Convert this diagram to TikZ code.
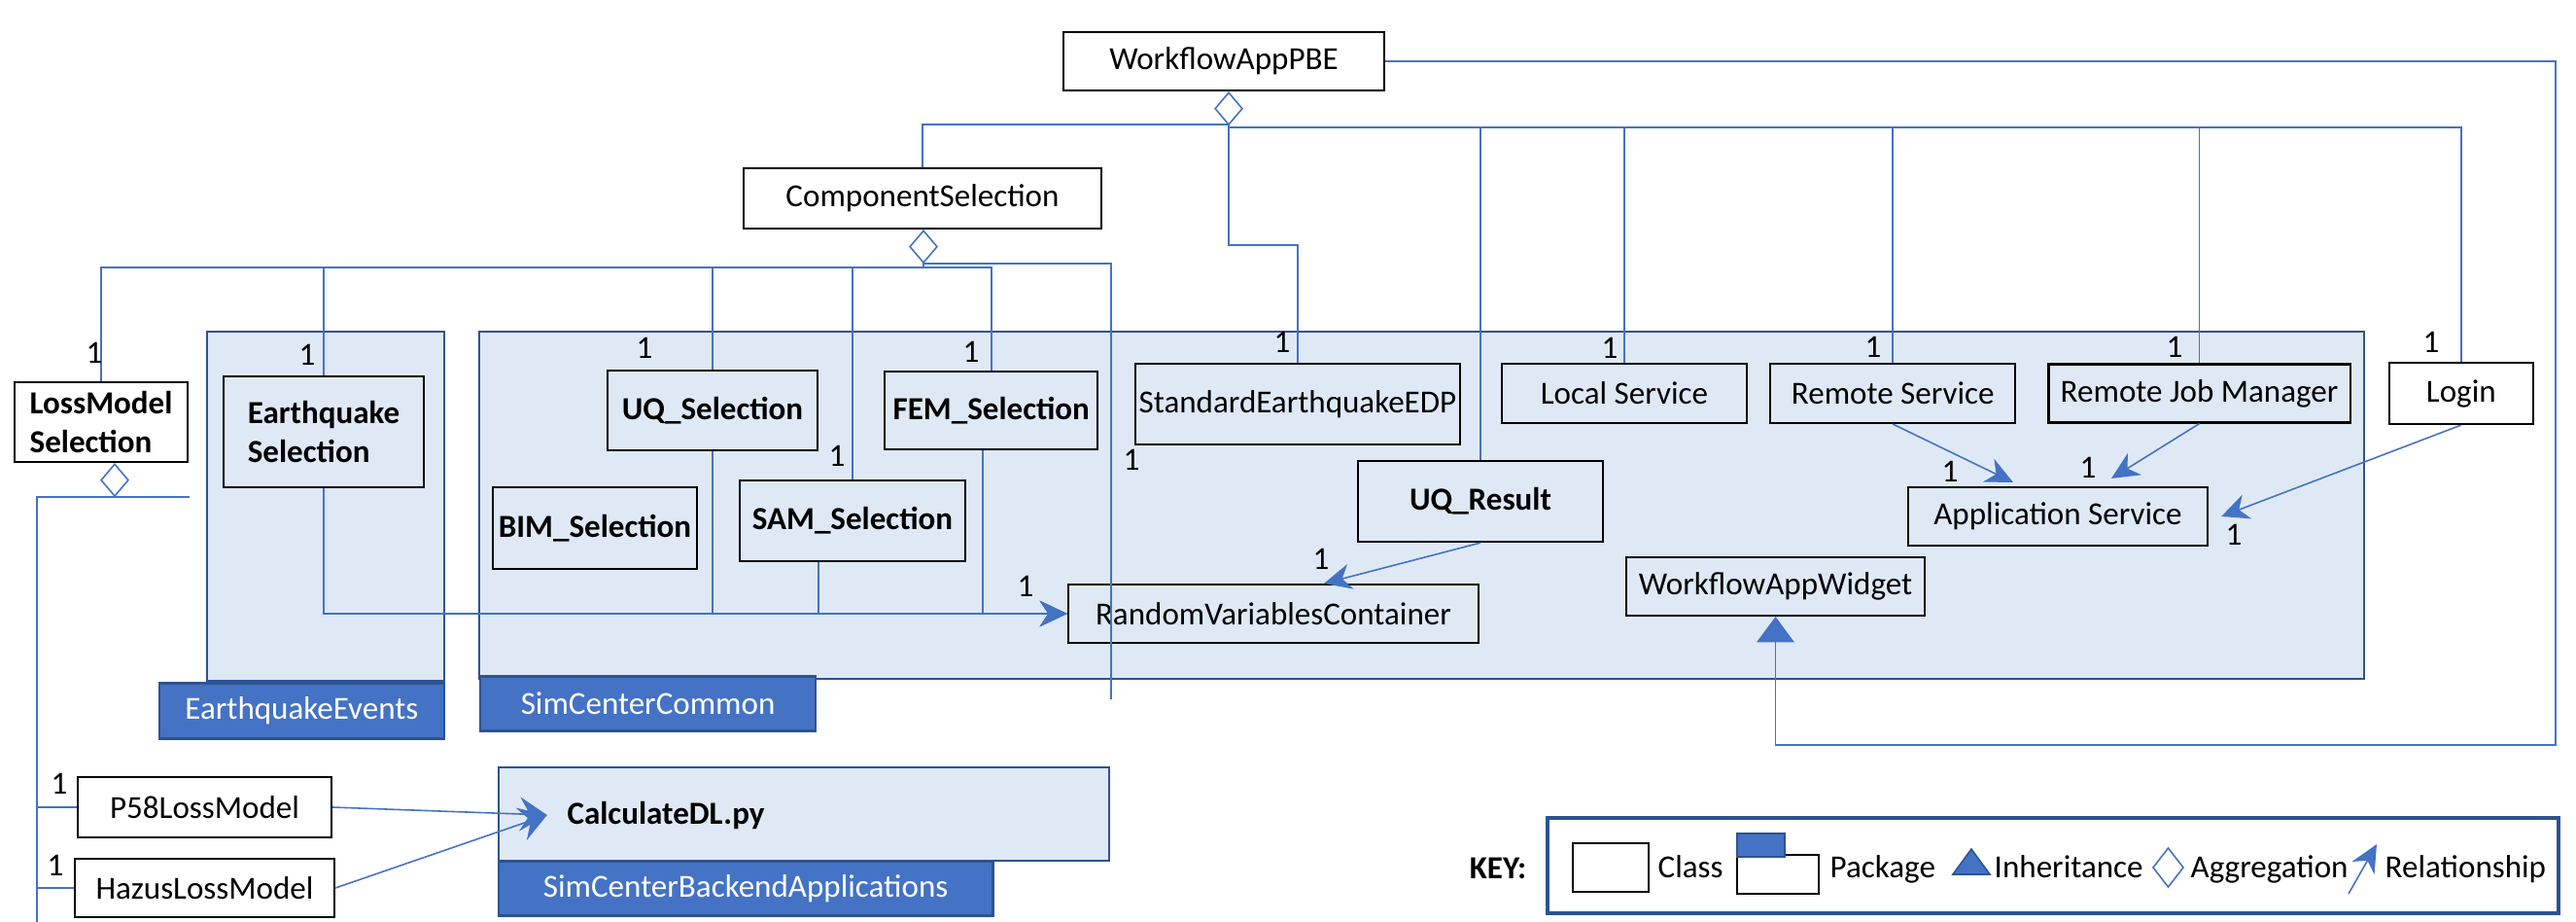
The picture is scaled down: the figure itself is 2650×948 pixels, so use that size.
\documentclass[tikz,border=0pt]{standalone}
\usepackage{fontspec}
\setmainfont{Carlito}
\usetikzlibrary{arrows.meta,positioning,fit}
\definecolor{pkgfill}{HTML}{DFE9F5}
\definecolor{tabblue}{HTML}{4472C4}
\definecolor{pkgline}{HTML}{2F528F}
\definecolor{lineblue}{HTML}{4472C4}
\newcommand{\dfont}{\fontsize{9.4}{11.1}\selectfont}
\tikzstyle{cls} = [rectangle, draw, line width=0.6pt, fill=white, text centered, inner sep=1pt]
\tikzstyle{pcls} = [cls, fill=pkgfill]
\tikzstyle{pkg} = [rectangle, draw=pkgline, line width=0.7pt, fill=pkgfill, inner sep=0pt]
\tikzstyle{pkgtab} = [rectangle, draw=pkgline, line width=0.7pt, fill=tabblue, text=white, inner sep=0pt]
\tikzstyle{conn} = [draw=lineblue, line width=0.45pt]
\tikzstyle{rel} = [conn, -{Stealth[length=8pt, width=7.5pt, inset=2.5pt]}]
\tikzstyle{agg} = [conn, {Diamond[open, length=10pt, width=8.5pt]}-]
\tikzstyle{inh} = [conn, -{Triangle[length=7.5pt, width=11pt, fill=tabblue]}]
\tikzstyle{mult} = [inner sep=0pt]
\tikzstyle{keytext} = [anchor=base west, inner sep=0pt]

\begin{document}
\begin{tikzpicture}[x=0.01cm, y=-0.01cm, font=\dfont]
    \useasboundingbox (0,0) rectangle (2650,948);

    % packages
    \node[pkg, fit={(213,341) (457,700)}] (eqPkg) {};
    \node[pkgtab, anchor=north east, minimum width=2.93cm, minimum height=0.57cm] (eqTab) at (eqPkg.south east) {EarthquakeEvents};
    \node[pkg, fit={(493,341) (2432,698)}] (simPkg) {};
    \node[pkgtab, anchor=north west, minimum width=3.45cm, minimum height=0.56cm] (simTab) at ([xshift=0.01cm, yshift=0.05cm]simPkg.south west) {SimCenterCommon};
    \node[pkg, fit={(513,789) (1141,885)}] (bePkg) {};
    \node[pkgtab, anchor=north west, minimum width=5.08cm, minimum height=0.56cm] (beTab) at ([yshift=0.02cm]bePkg.south west) {SimCenterBackendApplications};

    % classes
    \node[cls, minimum width=3.3cm, minimum height=0.6cm] (pbe) at (1259,63) {WorkflowAppPBE};
    \node[cls, minimum width=3.68cm, minimum height=0.62cm] (cs) at (949,204) {ComponentSelection};
    \node[cls, align=left, font=\dfont\bfseries, minimum width=1.78cm, minimum height=0.82cm] (loss) at (104,434) {LossModel\\Selection};
    \node[pcls, align=left, font=\dfont\bfseries, minimum width=2.06cm, minimum height=1.14cm] (eqSel) at (333,444) {Earthquake\\Selection};
    \node[pcls, font=\dfont\bfseries, minimum width=2.16cm, minimum height=0.82cm] (uqSel) at (733,422) {UQ\_Selection};
    \node[pcls, font=\dfont\bfseries, minimum width=2.19cm, minimum height=0.8cm, right=0.67cm of uqSel] (femSel) {FEM\_Selection};
    \node[pcls, font=\dfont\bfseries, minimum width=2.1cm, minimum height=0.84cm] (bimSel) at (612,543) {BIM\_Selection};
    \node[pcls, font=\dfont\bfseries, minimum width=2.32cm, minimum height=0.83cm] (samSel) at (877,535.5) {SAM\_Selection};
    \node[pcls, minimum width=3.28cm, minimum height=0.83cm] (edp) at (1335,415.5) {StandardEarthquakeEDP};
    \node[pcls, minimum width=2.52cm, minimum height=0.61cm] (local) at (1671,404.5) {Local Service};
    \node[pcls, minimum width=2.52cm, minimum height=0.61cm, right=0.22cm of local] (remote) {Remote Service};
    \node[pcls, minimum width=3.1cm, minimum height=0.6cm, right=0.32cm of remote] (rjm) {Remote Job Manager};
    \node[cls, minimum width=1.48cm, minimum height=0.63cm, right=0.38cm of rjm] (login) {Login};
    \node[pcls, font=\dfont\bfseries, minimum width=2.52cm, minimum height=0.83cm] (uqres) at (1523,515.5) {UQ\_Result};
    \node[pcls, minimum width=4.22cm, minimum height=0.6cm] (rvc) at (1310,631) {RandomVariablesContainer};
    \node[pcls, minimum width=3.08cm, minimum height=0.6cm] (app) at (2117,531) {Application Service};
    \node[pcls, minimum width=3.07cm, minimum height=0.6cm] (widget) at (1826.5,603) {WorkflowAppWidget};
    \node[cls, minimum width=2.61cm, minimum height=0.62cm] (p58) at (210.5,830) {P58LossModel};
    \node[cls, minimum width=2.66cm, minimum height=0.6cm, below=0.2cm of p58] (hazus) {HazusLossModel};
    \node[font=\dfont\bfseries, inner sep=0pt] (calc) at (685,838) {CalculateDL.py};

    % aggregation from WorkflowAppPBE
    \coordinate (pbeHub) at (1264,128);
    \draw[agg] (pbeHub |- pbe.south) -- (pbeHub);
    \draw[conn] (pbeHub) -| (cs.north);
    \draw[conn] (pbeHub) -- ++(0,124) -| (edp.north);
    \foreach \c in {uqres,local,remote,rjm,login}
        \draw[conn] (pbeHub) -- ++(0,3) -| (\c.north);

    % inheritance
    \coordinate (pbeTurn) at (2629,766);
    \draw[inh] (pbe.east) -| (pbeTurn) -| (widget.south);

    % aggregation from ComponentSelection
    \coordinate (csHub) at (950,271);
    \draw[agg] (csHub |- cs.south) -- (csHub);
    \foreach \c in {loss,eqSel,uqSel,samSel,femSel}
        \draw[conn] (csHub) -- ++(0,4) -| (\c.north);
    \coordinate (csEnd) at (1143,719);
    \draw[conn] (csHub) -| (csEnd);

    % aggregation from LossModelSelection
    \coordinate (lossHub) at (118,511);
    \coordinate (lossBus) at (38,511);
    \coordinate (lossStub) at (195,511);
    \coordinate (lossEnd) at (38,948);
    \draw[agg] (lossHub |- loss.south) -- (lossHub);
    \draw[conn] (lossStub) -- (lossBus) -- (lossEnd);
    \draw[conn] (lossBus) |- (p58.west);
    \draw[conn] (lossBus) |- (hazus.west);

    % relationships
    \foreach \c/\s in {eqSel/0, uqSel/0, samSel/-0.35, femSel/-0.085}
        \draw[rel] ([xshift=\s cm]\c.south) |- (rvc.west);
    \draw[rel] (uqres.south) -- ([xshift=0.52cm]rvc.north);
    \draw[rel] (remote.south) -- ([xshift=-0.46cm, yshift=0.04cm]app.north);
    \draw[rel] (rjm.south) -- ([xshift=0.55cm, yshift=0.08cm]app.north);
    \draw[rel] (login.south) -- ([xshift=0.13cm]app.east);
    \draw[rel, -{Stealth[length=8pt, width=10pt, inset=3pt]}] (p58.east) -- ([xshift=-0.2cm]calc.west);
    \draw[rel, -{Stealth[length=8pt, width=10pt, inset=3pt]}] (hazus.east) -- ([xshift=-0.2cm]calc.west);

    % multiplicities
    \foreach \n/\x/\y in {mLoss/97/363, mEq/316/365, mUq/663/358, mFem/999/362, mSam/861/469,
        mCs/1164/473, mEdp/1319/352, mLocal/1656/358, mRemote/1927/357, mRjm/2237/357,
        mLogin/2501/352, mRvcL/1055/603, mRvcT/1359/575, mAppL/2006/485, mAppT/2148/481,
        mAppR/2298/550, mP58/61/806, mHazus/57/890}
        \node[mult] (\n) at (\x,\y) {1};

    % key
    \node[draw=pkgline, line width=1pt, fit={(1592,841) (2632,939)}, inner sep=0pt] (keyBox) {};
    \node[font=\dfont\bfseries, inner sep=0pt] (keyLbl) at (1541,893) {KEY:};
    \node[cls, minimum width=0.78cm, minimum height=0.5cm] (keyCls) at (1657,892) {};
    \node[keytext] (keyClsTxt) at (1705,902) {Class};
    \node[cls, minimum width=0.84cm, minimum height=0.4cm] (keyPkgBody) at (1829,899) {};
    \node[pkgtab, minimum width=0.49cm, minimum height=0.24cm] (keyPkgTab) at (1811.5,869) {};
    \node[keytext] (keyPkgTxt) at (1882,902) {Package};
    \filldraw[fill=tabblue, draw=pkgline, line width=0.45pt] (2009,899) -- (2028,873) -- (2047,899) -- cycle;
    \node[keytext] (keyInhTxt) at (2051,902) {Inheritance};
    \draw[conn] (2230.5,872) -- (2246,892) -- (2230.5,912) -- (2215,892) -- cycle;
    \node[keytext] (keyAggTxt) at (2253,902) {Aggregation};
    \coordinate (keyRelA) at (2416,919);
    \coordinate (keyRelB) at (2445,868);
    \draw[rel] (keyRelA) -- (keyRelB);
    \node[keytext] (keyRelTxt) at (2453,902) {Relationship};
\end{tikzpicture}
\end{document}
